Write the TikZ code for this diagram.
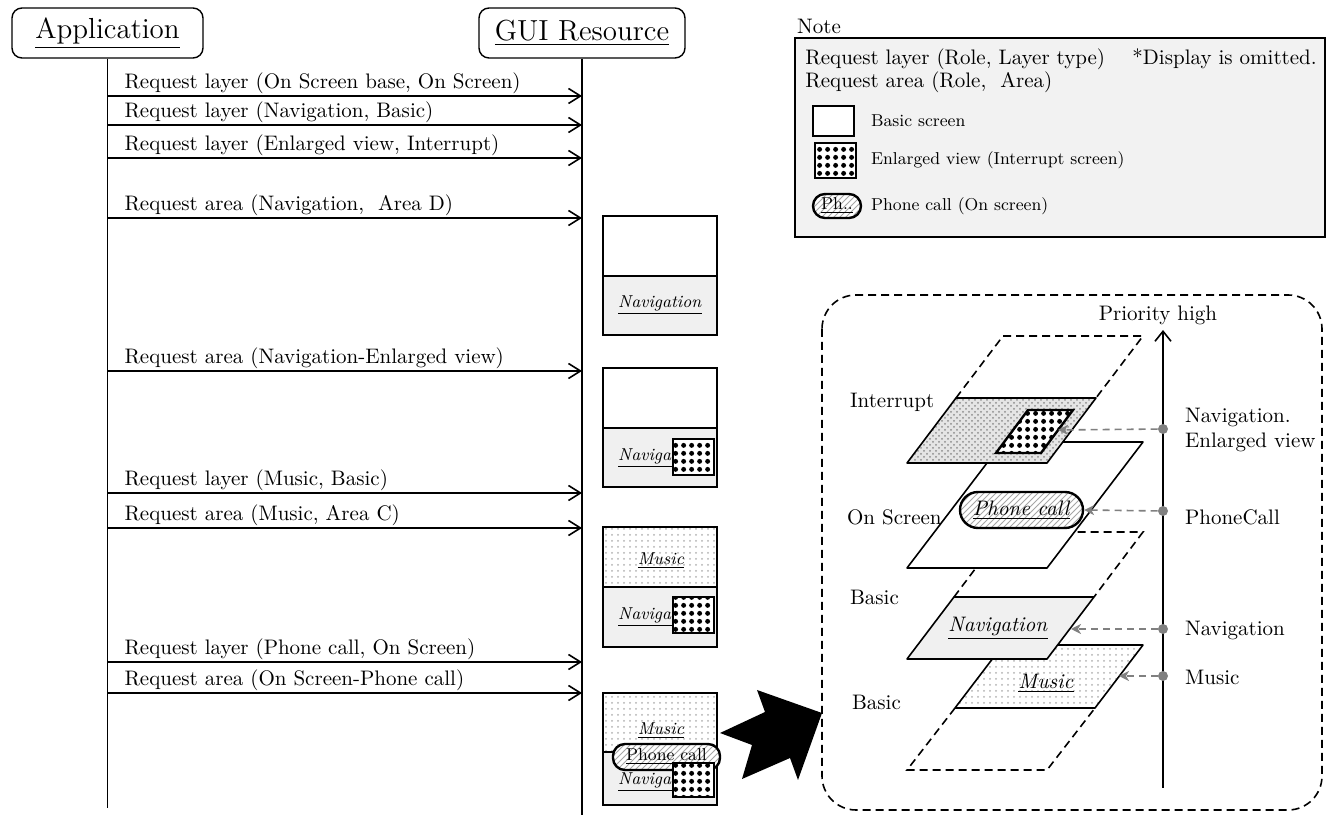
\documentclass[tikz,border=0pt]{standalone}
\usepackage{tikz}
\usetikzlibrary{arrows.meta,patterns,patterns.meta}

\newcommand\headfont{\fontsize{14.5}{17}\selectfont}
\newcommand\msgfont{\fontsize{10.5}{12.5}\selectfont}
\newcommand\iconfont{\fontsize{8.6}{10}\selectfont}

\pgfdeclarepattern{
  name=bigdots,
  type=uncolored,
  bottom left={\pgfpoint{0pt}{0pt}},
  top right={\pgfpoint{4pt}{4pt}},
  tile size={\pgfpoint{4pt}{4pt}},
  code={\pgfpathcircle{\pgfpoint{2pt}{2pt}}{1.35pt}\pgfusepath{fill}}
}

\tikzset{
  actor/.style    = {shape=rectangle, rounded corners=5pt, draw, line width=0.7pt,
                     minimum height=25pt, font=\headfont},
  life/.style     = {draw, line width=0.7pt},
  msg/.style      = {draw, line width=0.8pt,
                     -{Straight Barb[length=6pt,width=7.5pt,line width=0.8pt]}},
  msgtext/.style  = {anchor=south west, inner sep=0.6pt, xshift=7.5pt, font=\msgfont},
  screen/.style   = {draw, line width=1pt},
  scrtext/.style  = {inner sep=0pt, font=\iconfont},
  navfill/.style  = {fill=black!6},
  musfill/.style  = {preaction={fill=white}, pattern=dots, pattern color=black!30},
  intfill/.style  = {preaction={fill=black!10}, pattern=crosshatch dots, pattern color=black!45},
  enl/.style      = {preaction={fill=white}, pattern=bigdots, draw, line width=1.2pt},
  pill/.style     = {shape=rectangle, rounded corners=6pt, draw, line width=1.2pt,
                     preaction={fill=white}, pattern=north east lines,
                     pattern color=black!35, inner sep=0.5pt},
  layer/.style    = {draw, line width=0.8pt, line join=round},
  layerdash/.style= {draw, line width=0.8pt, dash pattern=on 4pt off 2.5pt},
  group/.style    = {draw, line width=0.8pt, dash pattern=on 4pt off 2.5pt, rounded corners=17pt},
  notebox/.style  = {draw, line width=1.3pt, fill=black!5},
  axis/.style     = {draw, line width=0.8pt, -{Straight Barb[length=5pt,width=8pt,line width=0.8pt]}},
  prio/.style     = {circle, fill=black!50, inner sep=0pt, minimum size=5pt},
  ptr/.style      = {draw=black!50, line width=0.8pt, dash pattern=on 3.5pt off 2.5pt,
                     -{Stealth[length=5pt,width=5pt,inset=1.5pt]}},
  every node/.style = {font=\msgfont}
}

\begin{document}
\begin{tikzpicture}[x=0.5pt, y=-0.5pt]
  \useasboundingbox (0,0) rectangle (1329,817);

  % lifelines
  \node [actor, minimum width=95.5pt] (app) at (107.5,33) {\underline{Application}};
  \node [actor, minimum width=103pt] (gui) at (582,33) {\underline{GUI Resource}};
  \coordinate (appEnd) at (107.5,808);
  \coordinate (guiEnd) at (582,815);
  \draw [life] (app.south) -- (appEnd);
  \draw [life] (gui.south) -- (guiEnd);

  % requests
  \coordinate (m1) at (107.5,96);
  \coordinate (m2) at (107.5,125);
  \coordinate (m3) at (107.5,158);
  \coordinate (m4) at (107.5,218);
  \coordinate (m5) at (107.5,371);
  \coordinate (m6) at (107.5,493);
  \coordinate (m7) at (107.5,528);
  \coordinate (m8) at (107.5,662);
  \coordinate (m9) at (107.5,693);
  \draw [msg] (m1) node [msgtext] {Request layer (On Screen base, On Screen)} -- (m1 -| gui);
  \draw [msg] (m2) node [msgtext] {Request layer (Navigation, Basic)} -- (m2 -| gui);
  \draw [msg] (m3) node [msgtext] {Request layer (Enlarged view, Interrupt)} -- (m3 -| gui);
  \draw [msg] (m4) node [msgtext] {Request area (Navigation,\ \ Area D)} -- (m4 -| gui);
  \draw [msg] (m5) node [msgtext] {Request area (Navigation-Enlarged view)} -- (m5 -| gui);
  \draw [msg] (m6) node [msgtext] {Request layer (Music, Basic)} -- (m6 -| gui);
  \draw [msg] (m7) node [msgtext] {Request area (Music, Area C)} -- (m7 -| gui);
  \draw [msg] (m8) node [msgtext] {Request layer (Phone call, On Screen)} -- (m8 -| gui);
  \draw [msg] (m9) node [msgtext] {Request area (On Screen-Phone call)} -- (m9 -| gui);

  % screens
  \fill [navfill] (603,276) rectangle (717,335);
  \draw [screen] (603,216) rectangle (717,335) (603,276) -- (717,276);
  \node [scrtext] (nav1) at (660,305) {\underline{\emph{Navigation}}};

  \fill [navfill] (603,428) rectangle (717,487);
  \draw [screen] (603,368) rectangle (717,487) (603,428) -- (717,428);
  \node [scrtext] (nav2) at (660,458) {\underline{\emph{Navigation}}};
  \path [enl] (673,439) rectangle (714,475);

  \path [musfill] (603,527) rectangle (717,587);
  \fill [navfill] (603,587) rectangle (717,647);
  \draw [screen] (603,527) rectangle (717,647) (603,587) -- (717,587);
  \node [scrtext] (mus3) at (661,561) {\underline{\emph{Music}}};
  \node [scrtext] (nav3) at (660,617) {\underline{\emph{Navigation}}};
  \path [enl] (673,597) rectangle (714,633);

  \path [musfill] (603,693) rectangle (717,752);
  \fill [navfill] (603,752) rectangle (717,805);
  \draw [screen] (603,693) rectangle (717,805) (603,752) -- (717,752);
  \node [scrtext] (mus4) at (661,731) {\underline{\emph{Music}}};
  \node [scrtext] (nav4) at (660,782) {\underline{\emph{Navigation}}};
  \node [pill, minimum width=53.5pt, minimum height=13pt, font=\iconfont] (call4) at (666.5,757) {\underline{Phone call}};
  \path [enl] (673,763) rectangle (714,797);

  % big arrow
  \fill (720,733) -- (765,712) -- (757,690) -- (822,713) -- (798,780) -- (790,758)
        -- (742,779) -- (752,745) -- cycle;

  % note
  \node [notebox, minimum width=265pt, minimum height=99.5pt] (note) at (1060,137.5) {};
  \node [anchor=south west, inner sep=1.5pt] at (note.north west) {Note};
  \node [anchor=west, inner sep=0pt] at (805,59) {Request layer (Role, Layer type)\hspace{1.3em}*Display is omitted.};
  \node [anchor=west, inner sep=0pt] at (805,82) {Request area (Role,\ \ Area)};
  \path [draw, fill=white, line width=1pt] (813,106) rectangle (854,136);
  \node [anchor=west, font=\iconfont] at (864,121) {Basic screen};
  \path [enl] (815,143) rectangle (856,178);
  \node [anchor=west, font=\iconfont] at (864,160) {Enlarged view (Interrupt screen)};
  \node [pill, minimum width=24pt, minimum height=12pt, font=\iconfont] (callIcon) at (837,206) {\underline{Ph..}};
  \node [anchor=west, font=\iconfont] at (864,206) {Phone call (On screen)};

  % layers
  \draw [group] (822,295) rectangle (1322,810);

  \draw [layer, musfill] (1003,645) -- (1143,645) -- (1095,708) -- (955,708) -- cycle;
  \draw [layerdash] (955,708) -- (907,770) -- (1047,770) -- (1095,708);
  \node (musLayer) at (1046,683) {\underline{\emph{Music}}};

  \draw [layerdash] (954,597) -- (1003,532) -- (1143,532) -- (1094,597);
  \draw [layer, navfill] (954,597) -- (1094,597) -- (1047,659) -- (907,659) -- cycle;
  \node (navLayer) at (998,628) {\underline{\emph{Navigation}}};

  \draw [layer, fill=white] (1003,442) -- (1143,442) -- (1047,568) -- (907,568) -- cycle;
  \node [pill, minimum width=61.5pt, minimum height=18pt, rounded corners=9pt] (callLayer) at (1021.5,510) {\underline{\emph{Phone call}}};

  \draw [layerdash] (956,398) -- (1003,336) -- (1143,336) -- (1096,398);
  \draw [layer, intfill] (956,398) -- (1096,398) -- (1047,463) -- (907,463) -- cycle;
  \path [enl] (1028,410) -- (1073,410) -- (1041,453) -- (996,453) -- cycle;

  \node [anchor=west] at (843,402) {Interrupt};
  \node [anchor=west] at (840,517) {On Screen};
  \node [anchor=west] at (843,597) {Basic};
  \node [anchor=west] at (845,702) {Basic};

  % priority
  \coordinate (axisLow) at (1163,788);
  \coordinate (axisTop) at (1163,330);
  \draw [axis] (axisLow) -- (axisTop);
  \node at (1158,315) {Priority high};

  \node [prio] (pEnl) at (1163,429) {};
  \node [prio] (pCall) at (1163,511) {};
  \node [prio] (pNav) at (1163,629) {};
  \node [prio] (pMus) at (1163,676) {};
  \coordinate (enlEnd) at (1058,430);
  \coordinate (navEnd) at (1071,629);
  \coordinate (musEnd) at (1119,676);
  \draw [ptr] (pEnl) -- (enlEnd);
  \draw [ptr] (pCall) -- (callLayer.east);
  \draw [ptr] (pNav) -- (navEnd);
  \draw [ptr] (pMus) -- (musEnd);

  \node [anchor=west, align=left] at (1178,430) {Navigation.\\Enlarged view};
  \node [anchor=west] at (1178,517) {PhoneCall};
  \node [anchor=west] at (1178,630) {Navigation};
  \node [anchor=west] at (1178,677) {Music};
\end{tikzpicture}
\end{document}
